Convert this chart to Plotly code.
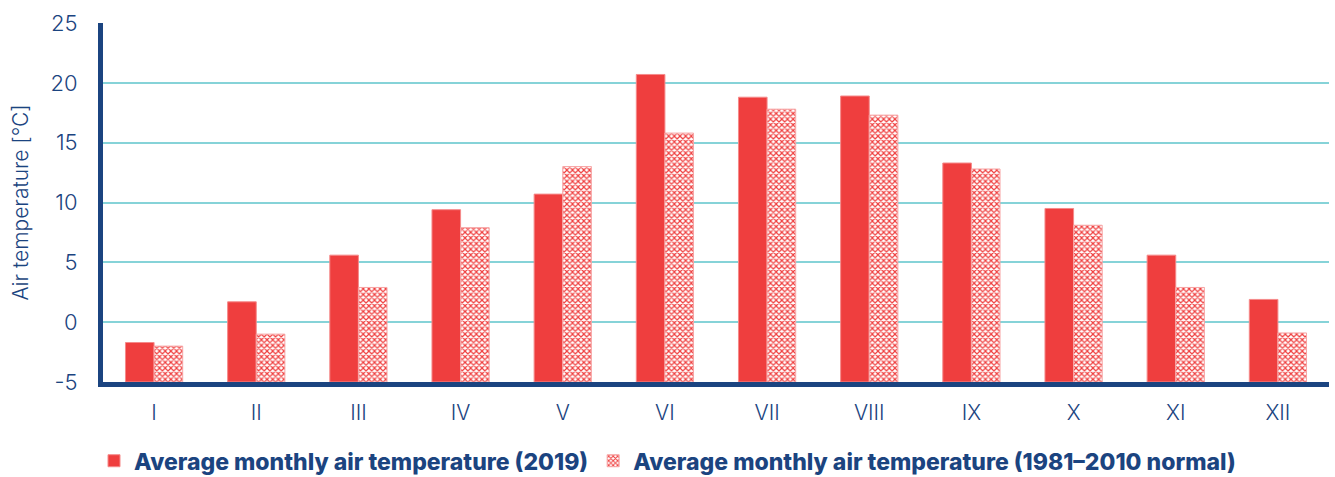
import plotly.graph_objects as go

# Monthly air temperature, 2019 vs 1981-2010 normal
months = ['I', 'II', 'III', 'IV', 'V', 'VI', 'VII', 'VIII', 'IX', 'X', 'XI', 'XII']
temp_2019 = [-1.7, 1.7, 5.6, 9.4, 10.7, 20.7, 18.8, 18.9, 13.3, 9.5, 5.6, 1.9]
temp_normal = [-2.0, -1.0, 2.9, 7.9, 13.0, 15.8, 17.8, 17.3, 12.8, 8.1, 2.9, -0.9]
y_ticks = [-5, 0, 5, 10, 15, 20, 25]

axis_floor = -5  # bars start from the bottom of the axis (Excel style)
navy = '#1b4480'
red = '#ef3e3e'

fig = go.Figure()

fig.add_trace(go.Bar(
    x=months, y=[v - axis_floor for v in temp_2019], base=axis_floor,
    name='Average monthly air temperature (2019)',
    marker=dict(color=red, line=dict(color='#f58a8a', width=1)),
))

fig.add_trace(go.Bar(
    x=months, y=[v - axis_floor for v in temp_normal], base=axis_floor,
    name='Average monthly air temperature (1981–2010 normal)',
    marker=dict(color='white', line=dict(color='#f7a5a5', width=1),
                pattern=dict(shape='x', size=4, solidity=0.5,
                             fgcolor=red, bgcolor='white', fillmode='replace')),
))

fig.update_layout(
    width=1335, height=477,
    barmode='group', bargap=0.44, bargroupgap=0,
    plot_bgcolor='white', paper_bgcolor='white',
    margin=dict(l=103, r=6, t=23, b=95, autoexpand=False),
    font=dict(family='Inter, Open Sans, sans-serif', color=navy, size=20),
    legend=dict(orientation='h', xanchor='center', x=0.5, xref='container',
                yanchor='middle', y=0.034, yref='container',
                font=dict(size=23, weight=800, color=navy), traceorder='normal',
                itemwidth=30, tracegroupgap=0),
    showlegend=True,
)

fig.update_yaxes(
    range=[-5, 25], tickvals=y_ticks, ticktext=[str(t) for t in y_ticks],
    showgrid=True, gridcolor='#86d3d8', gridwidth=1.5, zeroline=False,
    showline=True, linecolor=navy, linewidth=5,
    ticks='', ticklabelstandoff=16, automargin=False,
    tickfont=dict(size=22, color=navy, weight=300),
    title=dict(text='Air temperature [°C]', font=dict(size=21, color=navy, weight=300),
               standoff=18),
)

fig.update_xaxes(
    showline=True, linecolor=navy, linewidth=5, ticks='', automargin=False,
    tickfont=dict(size=21, color=navy, weight=300), ticklabelstandoff=8,
)

# drop the default page margin so the figure sits flush in the window
fig.write_html('out.html', config={'displayModeBar': False},
               post_script="document.body.style.margin='0';")
